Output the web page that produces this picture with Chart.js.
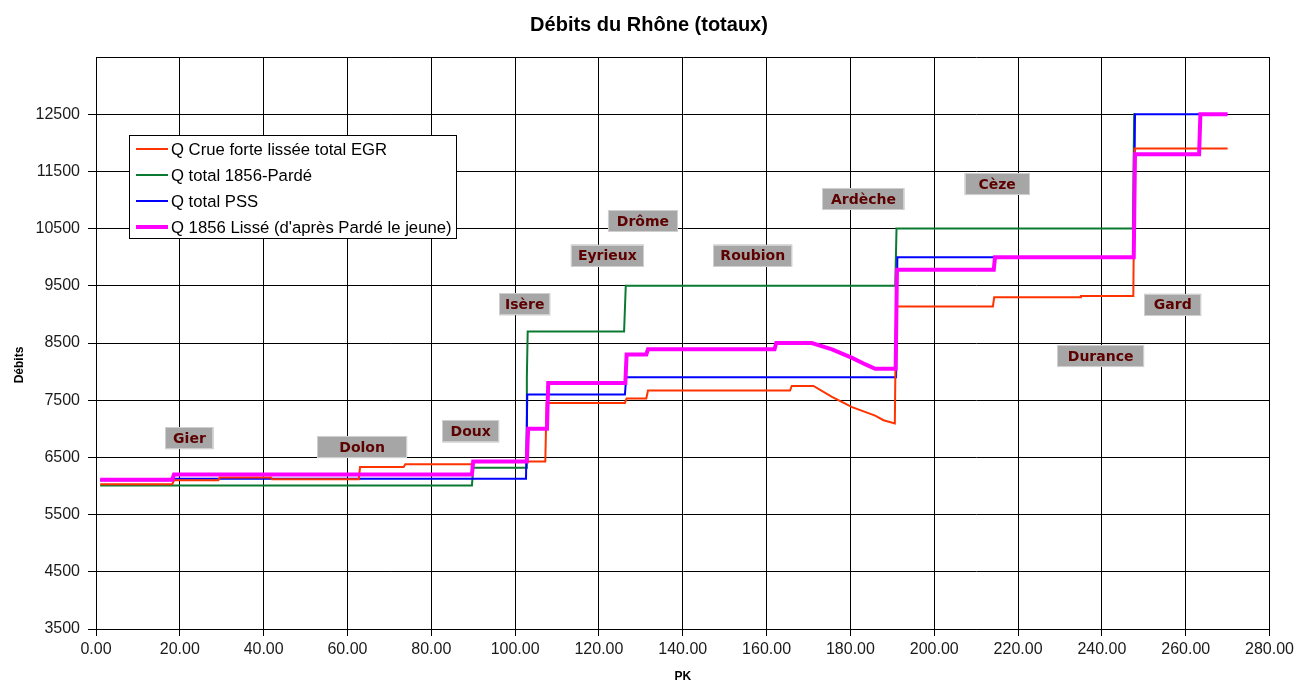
<!DOCTYPE html>
<html>
<head>
<meta charset="utf-8">
<script src="https://cdn.jsdelivr.net/npm/chart.js@4"></script>
<style>
  body { margin: 0; background: #fff; }
  #wrap { width: 1298px; height: 684px; }
</style>
</head>
<body>
<div id="wrap"><canvas id="chart" width="1298" height="684"></canvas></div>
<script>
// Q Crue forte lissée total EGR
const egrPK = [1.0, 18.2, 18.6, 29.2, 29.5, 41.8, 42.0, 62.7, 63.0, 73.4, 73.8, 89.7, 90.0, 107.2, 107.5, 126.2, 126.6, 131.3, 131.7, 165.6, 166.0, 171.2, 175.6, 180.4, 185.9, 187.9, 190.6, 190.9, 214.0, 214.3, 234.8, 235.0, 247.5, 247.8, 270.0];
const egrQ  = [6030, 6030, 6100, 6100, 6150, 6150, 6120, 6120, 6330, 6330, 6380, 6380, 6430, 6430, 7450, 7450, 7530, 7530, 7670, 7670, 7750, 7750, 7560, 7380, 7230, 7150, 7095, 9140, 9140, 9300, 9300, 9320, 9320, 11900, 11900];

// Q total 1856-Pardé
const pardePK = [1.0, 89.7, 90.0, 102.6, 102.8, 103.0, 126.0, 126.4, 190.7, 191.0, 247.4, 247.7, 248.0];
const pardeQ  = [6010, 6010, 6320, 6320, 7900, 8700, 8700, 9500, 9500, 10500, 10500, 12500, 12500];

// Q total PSS
const pssPK = [1.0, 18.2, 18.6, 102.6, 102.9, 126.2, 126.5, 190.9, 191.2, 247.6, 247.9, 263.3];
const pssQ  = [6100, 6100, 6125, 6125, 7600, 7600, 7900, 7900, 10000, 10000, 12500, 12500];

// Q 1856 Lissé (d'après Pardé le jeune)
const lissePK = [1.0, 18.2, 18.6, 89.7, 90.0, 102.8, 103.1, 107.6, 107.9, 126.3, 126.6, 131.3, 131.7, 161.9, 162.3, 170.8, 175.6, 180.4, 183.6, 185.9, 190.8, 191.1, 214.2, 214.5, 247.6, 247.9, 263.2, 263.5, 270.0];
const lisseQ  = [6110, 6110, 6200, 6200, 6430, 6430, 7000, 7000, 7800, 7800, 8300, 8300, 8390, 8390, 8500, 8500, 8390, 8240, 8125, 8050, 8050, 9780, 9780, 10000, 10000, 11800, 11800, 12500, 12500];

// affluents (étiquettes), position en PK / débit
const tribNames = ['Gier', 'Dolon', 'Doux', 'Isère', 'Eyrieux', 'Drôme', 'Roubion', 'Ardèche', 'Cèze', 'Gard', 'Durance'];
const tribPK    = [22.3, 63.5, 89.4, 102.3, 122.0, 130.5, 156.7, 183.1, 215.0, 256.9, 239.7];
const tribQ     = [6836, 6680, 6955, 9177, 10028, 10633, 10028, 11017, 11279, 9168, 8272];
const tribBoxW  = [48, 90, 57, 51, 73, 70, 79, 82, 65, 57, 87];

function toPoints(xs, ys) {
    return xs.map((x, i) => ({ x: x, y: ys[i] }));
}

// titre + titre de l'axe Y
const titles = {
    id: 'titles',
    afterDraw(chart) {
        const ctx = chart.ctx;
        ctx.save();
        ctx.fillStyle = '#000';
        ctx.textAlign = 'center';
        ctx.textBaseline = 'middle';
        ctx.font = 'bold 20px "Liberation Sans", Arial, sans-serif';
        ctx.fillText('Débits du Rhône (totaux)', chart.width / 2, 25);
        ctx.translate(20, 365);
        ctx.rotate(-Math.PI / 2);
        ctx.font = 'bold 12px "Liberation Sans", Arial, sans-serif';
        ctx.fillText('Débits', 0, 0);
        ctx.restore();
    }
};

// étiquettes grises des affluents
const tribLabels = {
    id: 'tribLabels',
    afterDatasetsDraw(chart) {
        const ctx = chart.ctx;
        const xs = chart.scales.x, ys = chart.scales.y;
        ctx.save();
        ctx.font = 'bold 14px "DejaVu Sans", Verdana, sans-serif';
        ctx.textAlign = 'center';
        ctx.textBaseline = 'middle';
        tribNames.forEach((name, i) => {
            const cx = xs.getPixelForValue(tribPK[i]);
            const cy = ys.getPixelForValue(tribQ[i]);
            const w = tribBoxW[i], h = 22;
            ctx.fillStyle = '#a6a6a6';
            ctx.fillRect(cx - w / 2, cy - h / 2, w, h);
            ctx.strokeStyle = '#cfcfcf';
            ctx.lineWidth = 1;
            ctx.strokeRect(Math.round(cx - w / 2) + 0.5, Math.round(cy - h / 2) + 0.5, w - 1, h - 1);
            ctx.fillStyle = '#5c0000';
            ctx.fillText(name, cx, cy + 1);
        });
        ctx.restore();
    }
};

// légende dans la zone du graphique
const legendBox = {
    id: 'legendBox',
    afterDraw(chart) {
        const ctx = chart.ctx, a = chart.chartArea;
        const x0 = Math.round(a.left + 33), y0 = Math.round(a.top + 78);
        const w = 327, h = 103;
        ctx.save();
        ctx.fillStyle = '#fff';
        ctx.fillRect(x0, y0, w, h);
        ctx.strokeStyle = '#000';
        ctx.lineWidth = 1;
        ctx.strokeRect(x0 + 0.5, y0 + 0.5, w, h);
        ctx.font = '16.7px "Liberation Sans", Arial, sans-serif';
        ctx.textBaseline = 'middle';
        ctx.textAlign = 'left';
        chart.data.datasets.forEach((ds, i) => {
            const y = y0 + 14 + i * 26;
            ctx.strokeStyle = ds.borderColor;
            ctx.lineWidth = ds.borderWidth;
            ctx.beginPath();
            ctx.moveTo(x0 + 7, y);
            ctx.lineTo(x0 + 39, y);
            ctx.stroke();
            ctx.fillStyle = '#000';
            ctx.fillText(ds.label, x0 + 42, y + 1);
        });
        ctx.restore();
    }
};

const tickFont = { family: '"Liberation Sans", Arial, sans-serif', size: 16 };

new Chart(document.getElementById('chart'), {
    type: 'scatter',
    data: {
        datasets: [
            {
                label: 'Q Crue forte lissée total EGR',
                data: toPoints(egrPK, egrQ),
                borderColor: '#ff3300',
                borderWidth: 2,
                order: 1
            },
            {
                label: 'Q total 1856-Pardé',
                data: toPoints(pardePK, pardeQ),
                borderColor: '#0a7a32',
                borderWidth: 2,
                order: 3
            },
            {
                label: 'Q total PSS',
                data: toPoints(pssPK, pssQ),
                borderColor: '#0000ff',
                borderWidth: 2,
                order: 2
            },
            {
                label: "Q 1856 Lissé (d'après Pardé le jeune)",
                data: toPoints(lissePK, lisseQ),
                borderColor: '#ff00ff',
                borderWidth: 4,
                order: 0
            }
        ].map(ds => Object.assign(ds, {
            showLine: true,
            pointRadius: 0,
            pointHoverRadius: 0,
            tension: 0,
            fill: false
        }))
    },
    options: {
        responsive: false,
        animation: false,
        events: [],
        layout: { padding: { top: 57, right: 26, left: 0, bottom: 0 } },
        plugins: {
            legend: { display: false },
            title: { display: false },
            tooltip: { enabled: false }
        },
        scales: {
            x: {
                type: 'linear',
                min: 0,
                max: 280,
                afterFit: s => { s.height = 55; },
                border: { color: '#000', width: 1 },
                grid: { color: '#000', lineWidth: 1, tickLength: 7, tickColor: '#000' },
                ticks: {
                    stepSize: 20,
                    padding: 4,
                    maxRotation: 0,
                    color: '#1a1a1a',
                    font: tickFont,
                    callback: v => Number(v).toFixed(2)
                },
                title: {
                    display: true,
                    text: 'PK',
                    color: '#000',
                    font: { family: '"Liberation Sans", Arial, sans-serif', size: 12, weight: 'bold' },
                    padding: { top: 0, bottom: 0 }
                }
            },
            y: {
                type: 'linear',
                min: 3500,
                max: 13500,
                afterFit: s => { s.width = 96; },
                border: { color: '#000', width: 1 },
                grid: {
                    color: '#000',
                    lineWidth: 1,
                    tickLength: 8,
                    tickColor: c => (c.tick && c.tick.value === 13500 ? 'rgba(0,0,0,0)' : '#000')
                },
                ticks: {
                    stepSize: 1000,
                    padding: 8,
                    color: '#1a1a1a',
                    font: tickFont,
                    callback: v => (v === 13500 ? '' : v)
                }
            }
        }
    },
    plugins: [titles, tribLabels, legendBox]
});
</script>
</body>
</html>
